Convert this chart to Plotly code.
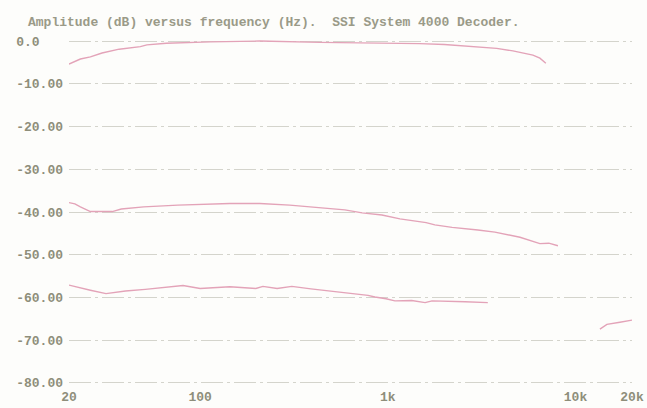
import plotly.graph_objects as go

title_text = "Amplitude (dB) versus frequency (Hz).  SSI System 4000 Decoder."

# upper response (around 0 dB)
freq_top = [20, 23, 26, 30, 37, 48, 52, 66, 113, 208, 435, 1000, 1480, 2000, 2740, 3800, 4640, 5180, 5930, 6460, 6950]
amp_top = [-5.4, -4.2, -3.7, -2.8, -1.9, -1.3, -0.9, -0.5, -0.2, 0.0, -0.3, -0.4, -0.6, -0.8, -1.2, -1.7, -2.3, -2.7, -3.3, -4.0, -5.2]

# middle response (around -40 dB)
freq_mid = [20, 21.5, 23, 26, 34, 38, 50, 76, 144, 208, 300, 435, 520, 590, 730, 930, 1160, 1410, 1600, 1780, 2200, 3020, 3720, 5060, 6460, 7210, 8060]
amp_mid = [-37.8, -38.1, -38.8, -39.9, -39.9, -39.3, -38.8, -38.4, -38.0, -38.0, -38.4, -39.1, -39.3, -39.5, -40.2, -40.7, -41.6, -42.1, -42.5, -43.0, -43.6, -44.2, -44.7, -45.9, -47.4, -47.3, -47.9]

# lower response (around -60 dB), with a gap before the high-frequency piece
freq_low = [20, 23, 26, 31.5, 40, 51, 63, 81, 100, 144, 198, 216, 257, 308, 389, 468, 570, 710, 784, 854, 978, 1090, 1340, 1580, 1720, 2580, 3410,
            None, 13490, 14700, 17250, 20000]
amp_low = [-57.1, -57.8, -58.3, -59.1, -58.5, -58.1, -57.7, -57.2, -57.9, -57.5, -57.9, -57.4, -57.9, -57.4, -58.0, -58.4, -58.9, -59.2, -59.5, -59.9, -60.3, -60.8, -60.7, -61.2, -60.8, -61.0, -61.2,
           None, -67.4, -66.3, -65.8, -65.3]

y_ticks = [0, -10, -20, -30, -40, -50, -60, -70, -80]
y_labels = ["0.0", "-10.00", "-20.00", "-30.00", "-40.00", "-50.00", "-60.00", "-70.00", "-80.00"]
x_ticks = [20, 100, 1000, 10000, 20000]
x_labels = ["20", "100", "1k", "10k", "20k"]

NB = "\u00a0"
width = max(len(s) for s in y_labels)
y_text = [s + NB * (width - len(s)) for s in y_labels]

pink = "#e3a3b8"
textc = "#8e8e7a"
fontfam = "Liberation Mono, DejaVu Sans Mono, monospace"

fig = go.Figure()
for fx, fy in [(freq_top, amp_top), (freq_mid, amp_mid), (freq_low, amp_low)]:
    fig.add_trace(go.Scatter(x=fx, y=fy, mode="lines", line=dict(color=pink, width=1.4),
                             connectgaps=False, cliponaxis=False, showlegend=False, hoverinfo="skip"))

fig.update_layout(
    width=647, height=408,
    margin=dict(l=69, r=15, t=40, b=24, autoexpand=False),
    paper_bgcolor="#fdfdfb", plot_bgcolor="#fdfdfb",
    font=dict(family=fontfam, size=13, color=textc),
    title=dict(text=title_text, xref="container", yref="container", x=28/647, xanchor="left",
               y=1-21/408, yanchor="middle",
               font=dict(family=fontfam, size=13, color="#9a9a88", weight="bold")),
    showlegend=False,
)
fig.update_xaxes(type="log", range=[1.30103, 4.30103], tickvals=x_ticks, ticktext=x_labels,
                 showgrid=False, zeroline=False, showline=False, ticks="", ticklabelstandoff=3,
                 automargin=False,
                 tickfont=dict(family=fontfam, size=13, color=textc, weight="bold"))
fig.update_yaxes(range=[-80.25, 0.25], tickvals=y_ticks, ticktext=y_text, showgrid=True,
                 gridcolor="#d4d4cc", gridwidth=1, griddash="22px,4px,3px,4px",
                 zeroline=False, showline=False, ticks="", ticklabelstandoff=5,
                 automargin=False,
                 tickfont=dict(family=fontfam, size=13, color=textc, weight="bold"))

fig.write_html("out.html", config={"displayModeBar": False},
               post_script="document.body.style.margin='0px';")
